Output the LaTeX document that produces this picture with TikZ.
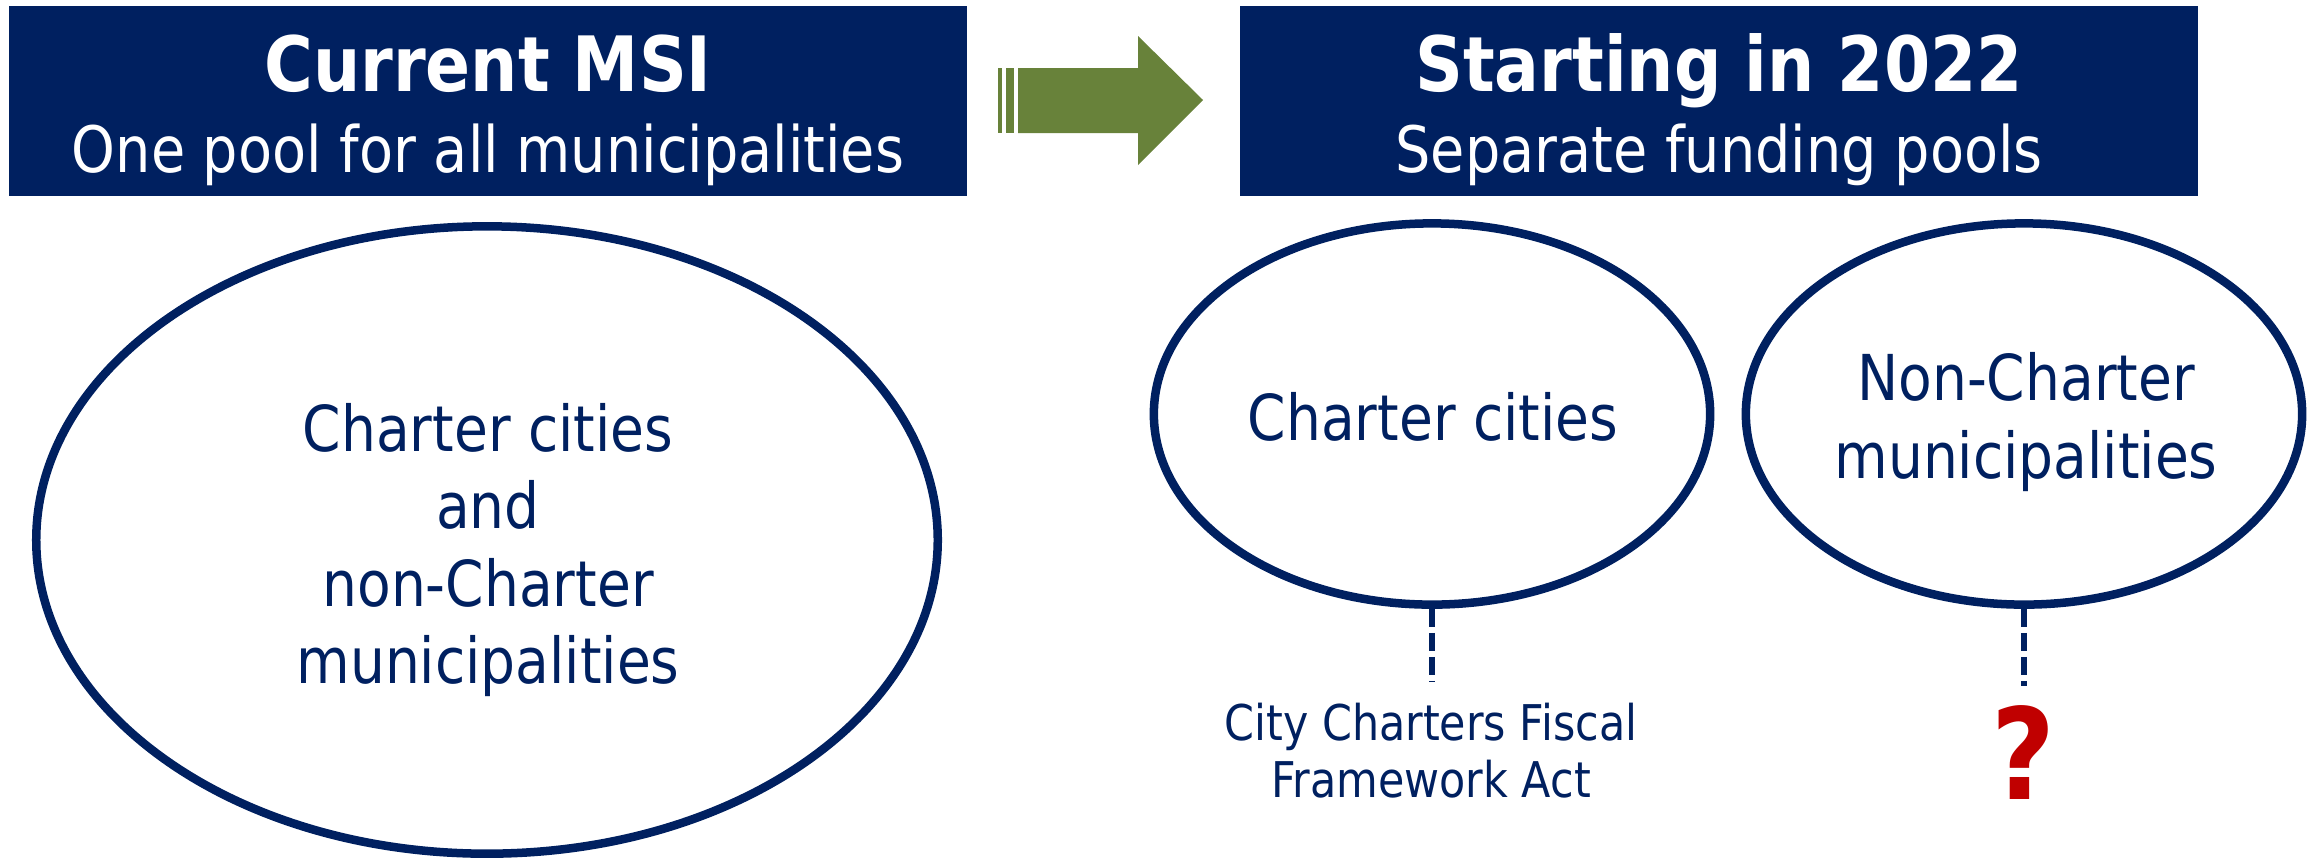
\documentclass[tikz,border=0pt]{standalone}
\usepackage{fontspec}
\setmainfont[FakeStretch=0.87]{DejaVu Sans}
\usetikzlibrary{shapes.geometric}
\definecolor{navy}{RGB}{0,32,96}
\definecolor{olive}{RGB}{104,130,58}
\definecolor{qred}{RGB}{192,0,0}

\begin{document}
\begin{tikzpicture}[x=0.01cm,y=-0.01cm,
    hdrbox/.style={fill=navy, minimum width=9.58cm, minimum height=1.90cm, inner sep=0},
    hdrtxt/.style={text=white, align=center, anchor=base, inner sep=0,
      font=\fontsize{18.2}{22.8}\selectfont},
    pool/.style={ellipse, draw=navy, line width=0.085cm, inner sep=0},
    pooltxt/.style={text=navy, align=center, anchor=base, inner sep=0,
      font=\fontsize{18}{21.9}\selectfont},
    link/.style={draw=navy, line width=0.06cm, dash pattern=on 0.18cm off 0.06cm}]
    \useasboundingbox (0,0) rectangle (2315,860);

    % header boxes
    \node[hdrbox] (curbox) at (488,101) {};
    \node[hdrbox] (newbox) at (1719,101) {};
    \node[hdrtxt] (curtxt) at (488,172)
        {{\fontsize{21.7}{22.8}\bfseries Current MSI}\\One pool for all municipalities};
    \node[hdrtxt] (newtxt) at (1719,172)
        {{\fontsize{21.7}{22.8}\bfseries Starting in 2022}\\Separate funding pools};

    % arrow between the headers
    \fill[olive] (998,68) rectangle (1002,133);
    \fill[olive] (1006,68) rectangle (1014,133);
    \fill[olive] (1018,68) -- (1138,68) -- (1138,36) -- (1203,100)
        -- (1138,165) -- (1138,133) -- (1018,133) -- cycle;

    % pools
    \node[pool, minimum width=9.01cm, minimum height=6.27cm] (all) at (487,540) {};
    \node[pool, minimum width=5.56cm, minimum height=3.81cm] (charter) at (1432,414) {};
    \node[pool, minimum width=5.56cm, minimum height=3.81cm] (noncharter) at (2024,414) {};
    \node[pooltxt] (alltxt) at (488,683)
        {Charter cities\\and\\non-Charter\\municipalities};
    \node[pooltxt] (chartertxt) at (1433,440) {Charter cities};
    \node[pooltxt] (nonchartertxt) at (2026,478) {Non-Charter\\municipalities};

    % what each new pool rests on
    \coordinate (actend) at (1432,681);
    \coordinate (qend) at (2024,686);
    \draw[link] (charter.south) -- (actend);
    \draw[link] (noncharter.south) -- (qend);
    \node[text=navy, align=center, anchor=base, inner sep=0,
        font=\fontsize{14}{16.2}\selectfont] (act) at (1431,797)
        {City Charters Fiscal\\Framework Act};
    \node[text=qred, anchor=base, inner sep=0,
        font=\fontsize{36}{40}\selectfont\bfseries] (qmark) at (2023,799) {?};
\end{tikzpicture}
\end{document}
